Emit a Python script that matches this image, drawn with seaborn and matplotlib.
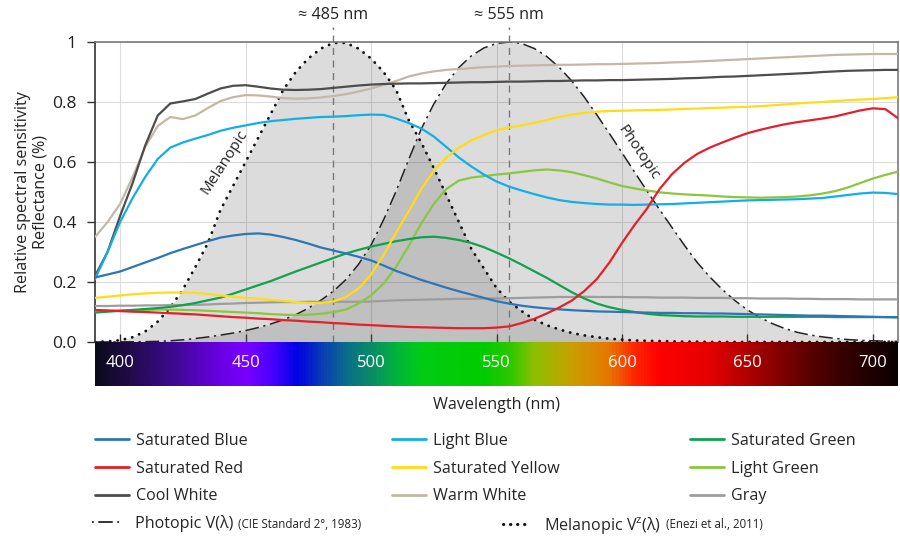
import numpy as np
import pandas as pd
import seaborn as sns
import matplotlib.pyplot as plt
from matplotlib.colors import LinearSegmentedColormap
from matplotlib.lines import Line2D

# --- data (5 nm steps) ---
wavelengths = list(range(390, 715, 5))

saturated_blue = [0.215, 0.225, 0.235, 0.25, 0.265, 0.28, 0.296, 0.31, 0.323, 0.336, 0.348, 0.355, 0.36,
                  0.362, 0.358, 0.35, 0.34, 0.328, 0.315, 0.305, 0.295, 0.284, 0.272, 0.255, 0.237, 0.222,
                  0.207, 0.194, 0.181, 0.169, 0.158, 0.147, 0.136, 0.128, 0.121, 0.116, 0.112, 0.109, 0.106,
                  0.104, 0.102, 0.101, 0.1, 0.099, 0.098, 0.097, 0.097, 0.096, 0.096, 0.095, 0.095, 0.094,
                  0.093, 0.092, 0.091, 0.09, 0.089, 0.088, 0.088, 0.087, 0.086, 0.085, 0.084, 0.083, 0.082]
light_blue = [0.21, 0.30, 0.40, 0.48, 0.55, 0.61, 0.648, 0.665, 0.678, 0.69, 0.704, 0.714, 0.722, 0.73,
              0.736, 0.74, 0.744, 0.747, 0.75, 0.751, 0.753, 0.756, 0.758, 0.757, 0.745, 0.73, 0.712, 0.685,
              0.65, 0.615, 0.585, 0.558, 0.535, 0.518, 0.505, 0.493, 0.482, 0.473, 0.467, 0.463, 0.46, 0.458,
              0.458, 0.457, 0.458, 0.459, 0.46, 0.462, 0.464, 0.466, 0.468, 0.47, 0.472, 0.473, 0.474, 0.475,
              0.476, 0.478, 0.48, 0.485, 0.49, 0.495, 0.498, 0.497, 0.493]
saturated_green = [0.098, 0.101, 0.104, 0.107, 0.11, 0.113, 0.117, 0.123, 0.13, 0.139, 0.148, 0.161, 0.175,
                   0.189, 0.203, 0.219, 0.235, 0.25, 0.265, 0.28, 0.295, 0.307, 0.318, 0.327, 0.336, 0.343,
                   0.349, 0.351, 0.347, 0.34, 0.33, 0.316, 0.298, 0.279, 0.258, 0.236, 0.214, 0.19, 0.166,
                   0.145, 0.128, 0.116, 0.107, 0.1, 0.094, 0.09, 0.088, 0.086, 0.085, 0.085, 0.085, 0.084,
                   0.084, 0.084, 0.084, 0.084, 0.084, 0.084, 0.084, 0.083, 0.083, 0.083, 0.083, 0.083, 0.083]
saturated_red = [0.107, 0.105, 0.103, 0.101, 0.1, 0.098, 0.096, 0.094, 0.092, 0.089, 0.086, 0.083, 0.081,
                 0.078, 0.076, 0.073, 0.071, 0.068, 0.066, 0.063, 0.061, 0.058, 0.056, 0.054, 0.052, 0.05,
                 0.049, 0.048, 0.047, 0.046, 0.046, 0.046, 0.048, 0.052, 0.063, 0.077, 0.095, 0.115, 0.138,
                 0.17, 0.21, 0.265, 0.33, 0.39, 0.445, 0.51, 0.56, 0.598, 0.627, 0.648, 0.665, 0.681, 0.696,
                 0.707, 0.717, 0.726, 0.733, 0.739, 0.745, 0.752, 0.762, 0.772, 0.779, 0.776, 0.746]
saturated_yellow = [0.147, 0.151, 0.155, 0.159, 0.162, 0.164, 0.165, 0.165, 0.164, 0.16, 0.155, 0.151, 0.147,
                    0.144, 0.141, 0.137, 0.133, 0.13, 0.13, 0.135, 0.15, 0.178, 0.225, 0.29, 0.365, 0.435,
                    0.51, 0.57, 0.615, 0.648, 0.672, 0.69, 0.706, 0.715, 0.722, 0.73, 0.74, 0.75, 0.758,
                    0.764, 0.768, 0.77, 0.771, 0.772, 0.773, 0.774, 0.775, 0.777, 0.778, 0.78, 0.781, 0.783,
                    0.784, 0.786, 0.789, 0.792, 0.795, 0.798, 0.8, 0.803, 0.806, 0.808, 0.81, 0.813, 0.816]
light_green = [0.102, 0.104, 0.105, 0.106, 0.107, 0.108, 0.108, 0.107, 0.106, 0.104, 0.102, 0.1, 0.098,
               0.096, 0.093, 0.091, 0.09, 0.091, 0.094, 0.1, 0.108, 0.128, 0.155, 0.195, 0.25, 0.32, 0.395,
               0.46, 0.51, 0.538, 0.548, 0.553, 0.558, 0.562, 0.567, 0.572, 0.575, 0.572, 0.566, 0.556,
               0.545, 0.532, 0.52, 0.512, 0.505, 0.499, 0.495, 0.492, 0.49, 0.488, 0.485, 0.483, 0.482,
               0.481, 0.482, 0.483, 0.485, 0.489, 0.495, 0.503, 0.515, 0.53, 0.545, 0.557, 0.568]
cool_white = [0.22, 0.30, 0.42, 0.53, 0.655, 0.755, 0.795, 0.802, 0.81, 0.828, 0.845, 0.854, 0.856, 0.851,
              0.845, 0.841, 0.84, 0.841, 0.843, 0.847, 0.851, 0.855, 0.858, 0.86, 0.861, 0.862, 0.862,
              0.863, 0.864, 0.865, 0.866, 0.866, 0.867, 0.868, 0.868, 0.869, 0.87, 0.87, 0.871, 0.872,
              0.872, 0.873, 0.873, 0.874, 0.875, 0.876, 0.877, 0.879, 0.88, 0.882, 0.884, 0.885, 0.887,
              0.889, 0.891, 0.893, 0.895, 0.897, 0.9, 0.902, 0.904, 0.905, 0.906, 0.907, 0.907]
warm_white = [0.35, 0.40, 0.46, 0.55, 0.65, 0.72, 0.75, 0.743, 0.755, 0.78, 0.803, 0.816, 0.823, 0.822,
              0.818, 0.813, 0.811, 0.812, 0.815, 0.82, 0.826, 0.835, 0.845, 0.857, 0.87, 0.885, 0.895,
              0.902, 0.907, 0.91, 0.913, 0.916, 0.918, 0.92, 0.921, 0.922, 0.923, 0.924, 0.924, 0.925,
              0.926, 0.926, 0.927, 0.928, 0.929, 0.93, 0.932, 0.933, 0.935, 0.937, 0.939, 0.941, 0.943,
              0.945, 0.947, 0.949, 0.951, 0.953, 0.955, 0.957, 0.958, 0.959, 0.96, 0.96, 0.96]
gray = [0.12, 0.12, 0.121, 0.121, 0.122, 0.122, 0.123, 0.123, 0.124, 0.125, 0.127, 0.128, 0.13, 0.131,
        0.132, 0.133, 0.133, 0.134, 0.134, 0.134, 0.134, 0.134, 0.135, 0.137, 0.139, 0.14, 0.141, 0.142,
        0.143, 0.144, 0.144, 0.145, 0.145, 0.146, 0.147, 0.148, 0.149, 0.15, 0.15, 0.151, 0.15, 0.15,
        0.15, 0.149, 0.149, 0.148, 0.148, 0.148, 0.147, 0.147, 0.147, 0.146, 0.146, 0.145, 0.145, 0.145,
        0.144, 0.144, 0.143, 0.143, 0.143, 0.142, 0.142, 0.142, 0.142]

# sensitivity curves
photopic = [0.00012, 0.00022, 0.0004, 0.00064, 0.0012, 0.00218, 0.004, 0.0073, 0.0116, 0.01684, 0.023,
            0.0298, 0.038, 0.048, 0.06, 0.0739, 0.091, 0.1126, 0.139, 0.1693, 0.208, 0.2586, 0.323,
            0.4073, 0.503, 0.6082, 0.71, 0.7932, 0.862, 0.9149, 0.954, 0.9803, 0.995, 1.0, 0.995, 0.9786,
            0.952, 0.9154, 0.87, 0.8163, 0.757, 0.6949, 0.631, 0.5668, 0.503, 0.4412, 0.381, 0.321, 0.265,
            0.217, 0.175, 0.1382, 0.107, 0.0816, 0.061, 0.0446, 0.032, 0.0232, 0.017, 0.0119, 0.0082,
            0.0057, 0.0041, 0.0029, 0.0021]
melanopic = [0.0, 0.002, 0.006, 0.016, 0.035, 0.068, 0.115, 0.175, 0.25, 0.33, 0.44, 0.52, 0.6, 0.68, 0.76,
             0.84, 0.9, 0.945, 0.978, 0.997, 0.997, 0.978, 0.945, 0.9, 0.84, 0.74, 0.665, 0.58, 0.49, 0.4,
             0.31, 0.245, 0.18, 0.135, 0.103, 0.075, 0.056, 0.042, 0.03, 0.022, 0.016, 0.011, 0.008, 0.005,
             0.004, 0.003, 0.002, 0.001, 0.001, 0, 0, 0, 0, 0, 0, 0, 0, 0, 0, 0, 0, 0, 0, 0, 0]

series = {
    "Saturated Blue": saturated_blue,
    "Light Blue": light_blue,
    "Saturated Green": saturated_green,
    "Saturated Red": saturated_red,
    "Saturated Yellow": saturated_yellow,
    "Light Green": light_green,
    "Cool White": cool_white,
    "Warm White": warm_white,
    "Gray": gray,
}
colors = {
    "Saturated Blue": "#2e75b6",
    "Light Blue": "#14aee6",
    "Saturated Green": "#12a04e",
    "Saturated Red": "#e3202b",
    "Saturated Yellow": "#ffdc14",
    "Light Green": "#8cc63f",
    "Cool White": "#4d4d4d",
    "Warm White": "#c3b8a8",
    "Gray": "#9d9d9d",
}
# bottom to top
draw_order = ["Gray", "Warm White", "Cool White", "Light Green", "Saturated Green", "Light Blue",
              "Saturated Blue", "Saturated Yellow", "Saturated Red"]

x_ticks = [400, 450, 500, 550, 600, 650, 700]
y_ticks = [0.0, 0.2, 0.4, 0.6, 0.8, 1.0]
y_tick_labels = ["0.0", "0.2", "0.4", "0.6", "0.8", "1"]
peaks = [485, 555]

# colour stops for the spectrum strip under the plot
spectrum_stops = [(390, "#0b0b1e"), (400, "#1c0a3c"), (420, "#3c0a8c"), (440, "#6a00e6"), (450, "#7800ff"),
                  (460, "#4a00ff"), (470, "#0000e6"), (480, "#0a3cb4"), (490, "#0a6e8c"), (500, "#0a8c64"),
                  (510, "#00b43c"), (520, "#00cc14"), (545, "#00cc00"), (555, "#28c800"), (565, "#8cc000"),
                  (580, "#c8a000"), (595, "#e67800"), (605, "#ff2800"), (615, "#ff0000"), (635, "#e60000"),
                  (655, "#a00000"), (675, "#5a0000"), (695, "#280000"), (710, "#0f0000")]

# --- long table for seaborn ---
rows = []
for name, vals in series.items():
    for w, v in zip(wavelengths, vals):
        rows.append({"wavelength": w, "value": v, "series": name})
df = pd.DataFrame(rows)

sns.set_theme(style="whitegrid")
plt.rcParams["font.family"] = ["Open Sans", "DejaVu Sans"]
plt.rcParams["mathtext.fontset"] = "custom"
plt.rcParams["mathtext.rm"] = "Open Sans"
plt.rcParams["mathtext.it"] = "Open Sans:italic"

FS = 11.6
W, H = 900, 541
fig = plt.figure(figsize=(W / 100, H / 100), dpi=100)
ax = fig.add_axes([95 / W, 1 - 342 / H, 803 / W, 300 / H])
band = fig.add_axes([95 / W, 1 - 386 / H, 803 / W, 44 / H])

XMIN, XMAX = 390, 710

# sensitivity fills (overlap gets darker)
ax.fill_between(wavelengths, melanopic, color="#505050", alpha=0.2, lw=0, zorder=1)
ax.fill_between(wavelengths, photopic, color="#505050", alpha=0.2, lw=0, zorder=1)

sns.lineplot(data=df, x="wavelength", y="value", hue="series", hue_order=draw_order, palette=colors,
             estimator=None, linewidth=1.6, legend=False, ax=ax, zorder=3)

ax.plot(wavelengths, photopic, color="#222222", lw=1.1, ls=(0, (9, 3, 1.5, 3)), zorder=2)
ax.plot(wavelengths, melanopic, color="#111111", lw=2.0, ls=(0, (0.1, 2.6)),
        dash_capstyle="round", zorder=2)

for p in peaks:
    ax.plot([p, p], [0, 1.05], color="#777777", lw=1, ls=(0, (5, 4)), clip_on=False, zorder=2)
    ax.text(p, 1.09, f"≈ {p} nm", ha="center", va="center", fontsize=FS, color="#222222")

ax.text(441.5, 0.6, "Melanopic", rotation=57, ha="center", va="center", fontsize=11, color="#222222")
ax.text(606.5, 0.63, "Photopic", rotation=-56, ha="center", va="center", fontsize=11, color="#222222")

ax.set_xlim(XMIN, XMAX)
ax.set_ylim(0, 1)
ax.set_xticks(x_ticks)
ax.set_yticks(y_ticks)
ax.set_yticklabels(y_tick_labels)
ax.tick_params(axis="x", direction="in", length=6, width=1, color="#333333", bottom=True, labelbottom=False)
ax.tick_params(axis="y", direction="out", length=6, width=1, color="#333333", left=True,
               labelsize=12.5, labelcolor="#222222", pad=7.5)
ax.grid(True, color="#dcdcdc", lw=0.8)
ax.set_xlabel("")
ax.set_ylabel("Relative spectral sensitivity\nReflectance (%)", fontsize=FS, color="#222222", labelpad=2)
for s in ["top", "right"]:
    ax.spines[s].set_color("#7a7a7a")
    ax.spines[s].set_linewidth(1.2)
ax.spines["left"].set_color("#333333")
ax.spines["left"].set_linewidth(1.2)
ax.spines["bottom"].set_visible(False)

# spectrum strip
cmap = LinearSegmentedColormap.from_list(
    "spectrum", [((w - XMIN) / (XMAX - XMIN), c) for w, c in spectrum_stops])
grad = np.linspace(0, 1, 800)[None, :]
band.imshow(grad, cmap=cmap, aspect="auto", extent=[XMIN, XMAX, 0, 1])
band.set_xlim(XMIN, XMAX)
band.set_ylim(0, 1)
band.set_xticks([])
band.set_yticks([])
band.grid(False)
for s in band.spines.values():
    s.set_visible(False)
for t in x_ticks:
    band.text(t, 0.52, str(t), color="white", ha="center", va="center", fontsize=12)
band.set_xlabel("Wavelength (nm)", fontsize=FS, color="#222222", labelpad=8)

# legend: three columns plus one row for the sensitivity curves
legend_cols = [["Saturated Blue", "Saturated Red", "Cool White"],
               ["Light Blue", "Saturated Yellow", "Warm White"],
               ["Saturated Green", "Light Green", "Gray"]]
col_x = [95, 392, 690]
for names, x in zip(legend_cols, col_x):
    handles = [Line2D([], [], color=colors[n], lw=2) for n in names]
    fig.legend(handles, names, loc="upper left", bbox_to_anchor=(x / W, 1 - 433 / H),
               frameon=False, fontsize=FS, handlelength=2.1, handletextpad=0.42,
               labelspacing=0.72, borderpad=0, borderaxespad=0)

leg_p = fig.legend([Line2D([], [], color="#222222", lw=1.3, ls=(0, (1, 2.5, 8, 2.5, 1, 20)))],
                   ["Photopic V(λ)"], loc="upper left", bbox_to_anchor=(92 / W, 1 - 515 / H),
                   frameon=False, fontsize=FS, handlelength=2.1, handletextpad=0.55,
                   borderpad=0, borderaxespad=0)
leg_m = fig.legend([Line2D([], [], color="#111111", lw=2.2, ls=(0, (0.1, 2.2)), dash_capstyle="round")],
                   ["Melanopic V$^\\mathregular{z}$(λ)"], loc="upper left",
                   bbox_to_anchor=(503 / W, 1 - 515 / H), frameon=False, fontsize=FS,
                   handlelength=1.7, handletextpad=0.85, borderpad=0, borderaxespad=0)

fig.canvas.draw()
renderer = fig.canvas.get_renderer()
base_bb = leg_p.get_texts()[0].get_window_extent(renderer)
for leg, note in [(leg_p, "(CIE Standard 2°, 1983)"), (leg_m, "(Enezi et al., 2011)")]:
    bb = leg.get_texts()[0].get_window_extent(renderer)
    fig.text((bb.x1 + 5) / W, (base_bb.y0 + 4.5) / H, note, fontsize=8.3, color="#222222", va="baseline")

fig.savefig("out.png", dpi=100)
